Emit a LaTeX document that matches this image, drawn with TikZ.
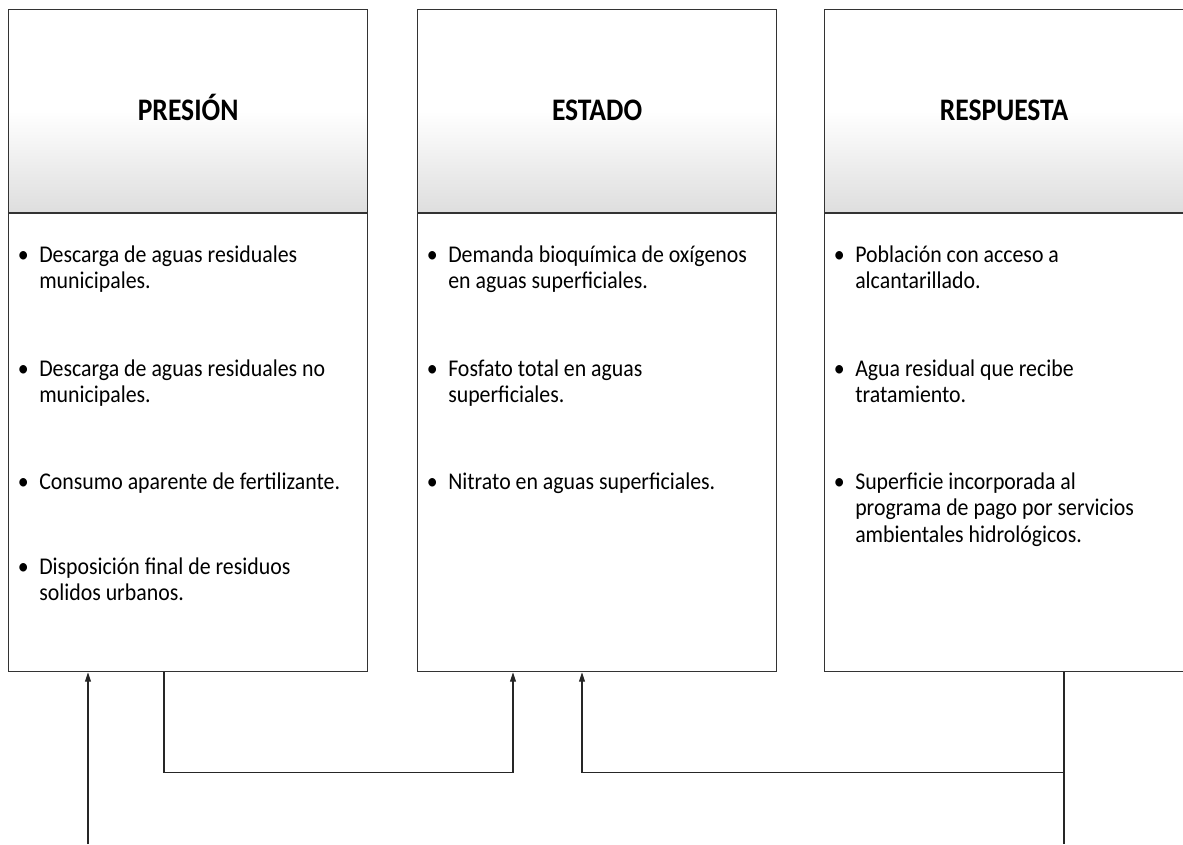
\documentclass[tikz,border=0pt]{standalone}
\usepackage{fontspec}
\setmainfont{Carlito}
\newfontfamily\bodyfont[FakeStretch=0.91]{Carlito}
\newfontfamily\titlefont[FakeStretch=0.88]{Carlito}
\usetikzlibrary{arrows.meta,calc}
\newcommand\bul[1]{\makebox[0pt]{\textbullet}\hspace{12pt}\begin{tabular}[t]{@{}l@{}}#1\end{tabular}}
\tikzset{
  hdr/.style={draw=black!80, line width=0.9pt, top color=white, bottom color=black!13, middle color=white,
    minimum width=269.25pt, minimum height=152.25pt, inner sep=0pt, anchor=north west,
    font=\titlefont\bfseries\fontsize{23.5}{28}\selectfont, text height=14.8pt, text depth=0pt},
  bodybox/.style={draw=black!80, line width=0.9pt, minimum width=269.25pt, minimum height=343.5pt,
    inner sep=0pt, anchor=north west},
  itm/.style={anchor=base west, inner sep=0pt, font=\bodyfont\fontsize{18}{20}\selectfont},
  conn/.style={draw=black!85, line width=0.8pt},
  arr/.style={conn, -{Triangle[length=7pt,width=4.5pt]}}
}
\begin{document}
\begin{tikzpicture}[x=0.75pt,y=-0.75pt]
\useasboundingbox (0,0) rectangle (1183,844);
% boxes
\node[hdr] (ph) at (8,9) {PRESIÓN};
\node[bodybox] (pb) at (ph.south west) {};
\node[hdr] (eh) at (417,9) {ESTADO};
\node[bodybox] (eb) at (eh.south west) {};
\node[hdr] (rh) at (824,9) {RESPUESTA};
\node[bodybox] (rb) at (rh.south west) {};
% items
\node[itm] (p1) at (23,262) {\bul{Descarga de aguas residuales\\municipales.}};
\node[itm] (p2) at (23,376) {\bul{Descarga de aguas residuales no\\municipales.}};
\node[itm] (p3) at (23,489) {\bul{Consumo aparente de fertilizante.}};
\node[itm] (p4) at (23,574) {\bul{Disposición final de residuos\\solidos urbanos.}};
\node[itm] (e1) at (432,262) {\bul{Demanda bioquímica de oxígenos\\en aguas superficiales.}};
\node[itm] (e2) at (432,376) {\bul{Fosfato total en aguas\\superficiales.}};
\node[itm] (e3) at (432,489) {\bul{Nitrato en aguas superficiales.}};
\node[itm] (r1) at (839,262) {\bul{Población con acceso a\\alcantarillado.}};
\node[itm] (r2) at (839,376) {\bul{Agua residual que recibe\\tratamiento.}};
\node[itm] (r3) at (839,489) {\bul{Superficie incorporada al\\programa de pago por servicios\\ambientales hidrológicos.}};
% connector points
\coordinate (pIn) at ($(pb.south west)+(80,0)$);
\coordinate (pIn0) at (pIn |- 0,844);
\coordinate (pOut) at ($(pb.south west)+(156,0)$);
\coordinate (eIn1) at ($(eb.south west)+(96,0)$);
\coordinate (eIn2) at ($(eb.south west)+(165,0)$);
\coordinate (rOut) at ($(rb.south west)+(240,0)$);
\coordinate (rJoin) at ($(rOut)+(0,100)$);
\coordinate (rEnd) at (rOut |- 0,844);
% connectors
\draw[arr] (pIn0) -- (pIn);
\draw[arr] (pOut) -- ++(0,100) -| (eIn1);
\draw[conn] (rOut) -- (rEnd);
\draw[arr] (rJoin) -| (eIn2);
\end{tikzpicture}
\end{document}
